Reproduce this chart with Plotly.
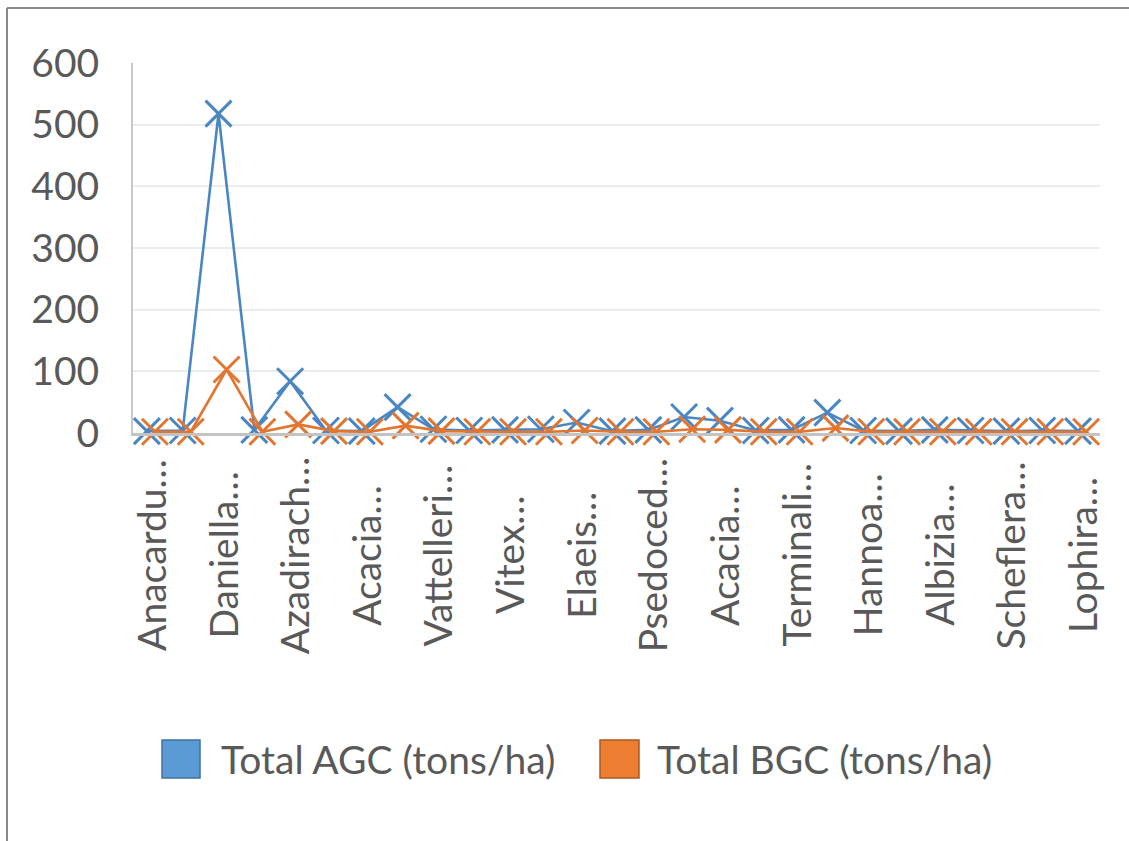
import plotly.graph_objects as go

# ---------------- data ----------------
species = [
    "Anacardu…", "Khaya…", "Daniella…", "Gmelina…", "Azadirach…", "Tectona…",
    "Acacia…", "Ceiba…", "Vattelleri…", "Milicia…", "Vitex…", "Cola…",
    "Elaeis…", "Spondias…", "Psedoced…", "Ficus…", "Acacia… ", "Mangifera…",
    "Terminali…", "Senna…", "Hannoa…", "Alstonia…", "Albizia…", "Blighia…",
    "Scheflera…", "Parkia…", "Lophira…",
]
agc = [3, 4, 518, 5, 84, 4, 3, 42, 6, 4, 5, 6, 17, 3, 5, 26, 20, 4, 5, 33,
       4, 3, 5, 4, 3, 4, 3]
bgc = [2, 2, 103, 2, 14, 3, 2, 12, 3, 2, 2, 2, 4, 2, 2, 6, 5, 2, 2, 8,
       2, 2, 2, 2, 2, 2, 2]
series_names = ["Total AGC (tons/ha)", "Total BGC (tons/ha)"]
y_ticks = [0, 100, 200, 300, 400, 500, 600]

# ---------------- style ----------------
W, H = 1129, 841
ML, MR, MT, MB = 133, 29, 63, 408
PW, PH = W - ML - MR, H - MT - MB
BLUE, ORANGE = "#5B9BD5", "#ED7D31"
BLUE_LINE, ORANGE_LINE = "#4A86C2", "#E27530"
TXT = "#595959"
FONT = "Lato"
FS = 39


def px_x(p):
    return (p - ML) / PW


def px_y(p):
    return (H - MB - p) / PH


fig = go.Figure()
for name, vals, lc, grp in [(series_names[0], agc, BLUE_LINE, "a"),
                            (series_names[1], bgc, ORANGE_LINE, "b")]:
    fig.add_trace(go.Scatter(
        x=species, y=vals, name=name, mode="lines+markers",
        offsetgroup=grp,
        line=dict(color=lc, width=2.6),
        marker=dict(symbol="x-thin", size=26, line=dict(color=lc, width=3)),
        cliponaxis=False, showlegend=False,
    ))

# category labels (every other one, as in the original)
annotations = []
for i, s in enumerate(species):
    if i % 2 == 0:
        annotations.append(dict(
            x=s, xref="x", y=px_y(555), yref="paper", text=s.strip(),
            textangle=-90, showarrow=False, xanchor="center", yanchor="middle",
            font=dict(family=FONT, size=FS, color=TXT)))

# legend drawn as squares + text
shapes = []
leg = [(162, 200, BLUE, "#41719C", 219, series_names[0]),
       (600, 639, ORANGE, "#AE5A21", 655, series_names[1])]
for x0, x1, fc, bc, tx, label in leg:
    shapes.append(dict(type="rect", xref="paper", yref="paper",
                       x0=px_x(x0), x1=px_x(x1), y0=px_y(778), y1=px_y(740),
                       fillcolor=fc, line=dict(color=bc, width=1.5)))
    annotations.append(dict(x=px_x(tx), y=px_y(759), xref="paper", yref="paper",
                            text=label, showarrow=False, xanchor="left",
                            yanchor="middle",
                            font=dict(family=FONT, size=FS, color=TXT)))

# outer frame (left and top edges)
shapes.append(dict(type="line", xref="paper", yref="paper",
                   x0=px_x(7), x1=px_x(7), y0=px_y(8), y1=px_y(845),
                   line=dict(color="#8a8a8a", width=2)))
shapes.append(dict(type="line", xref="paper", yref="paper",
                   x0=px_x(7), x1=px_x(1135), y0=px_y(8), y1=px_y(8),
                   line=dict(color="#8a8a8a", width=2)))

fig.update_layout(
    width=W, height=H,
    margin=dict(l=ML, r=MR, t=MT, b=MB),
    paper_bgcolor="white", plot_bgcolor="white",
    scattermode="group", scattergap=0.55,
    showlegend=False,
    font=dict(family=FONT, size=FS, color=TXT),
    xaxis=dict(type="category", categoryorder="array", categoryarray=species,
               range=[-0.5, len(species) - 0.5], showticklabels=False,
               showgrid=False, zeroline=False, showline=True,
               linecolor="#c3c3c3", linewidth=3, ticks=""),
    yaxis=dict(range=[0, 600], tickvals=y_ticks, showgrid=True,
               gridcolor="#ececec", gridwidth=1.5, zeroline=False,
               showline=True, linecolor="#c8c8c8", linewidth=2, ticks="",
               ticklabelstandoff=24,
               tickfont=dict(family=FONT, size=FS, color=TXT)),
    annotations=annotations,
    shapes=shapes,
)

fig.write_html("out.html")
